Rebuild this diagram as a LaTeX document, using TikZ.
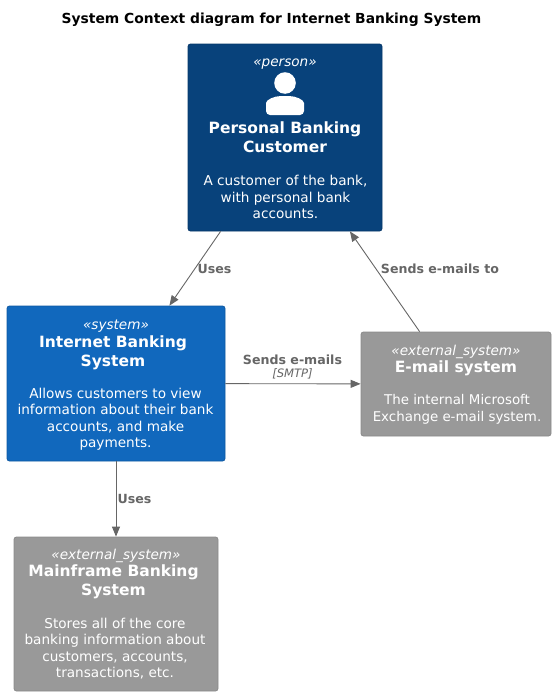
\documentclass[tikz,border=0pt]{standalone}
\usepackage{fontspec}
\setmainfont{DejaVu Sans}
\usetikzlibrary{arrows.meta,positioning}
\definecolor{personblue}{HTML}{08427B}
\definecolor{systemblue}{HTML}{1168BD}
\definecolor{extgray}{HTML}{999999}
\definecolor{linkgray}{HTML}{666666}
\begin{document}
\begin{tikzpicture}[x=1pt,y=-1pt,>={Triangle[length=10pt,width=8pt]},
    block/.style={rectangle,rounded corners=2.5pt,inner sep=0pt,line width=0.8pt},
    person/.style={block,fill=personblue,draw=personblue!85!black,minimum width=194pt,minimum height=187pt},
    system/.style={block,fill=systemblue,draw=systemblue!85!black,minimum width=218pt,minimum height=155pt},
    external/.style={block,fill=extgray,draw=extgray!90!black},
    stereo/.style={text=white,inner sep=0pt,font=\fontsize{13.6}{16.5}\selectfont\itshape},
    boxname/.style={text=white,align=center,inner sep=0pt,font=\fontsize{15.5}{19}\selectfont\bfseries},
    boxdesc/.style={text=white,align=center,inner sep=0pt,font=\fontsize{13.6}{16.5}\selectfont},
    link/.style={draw=linkgray,->,line width=0.9pt},
    linklabel/.style={text=linkgray,font=\fontsize{12.6}{15}\selectfont\bfseries,inner sep=0pt},
    techlabel/.style={text=linkgray,font=\fontsize{11.6}{14}\selectfont\itshape,inner sep=0pt}]
    \useasboundingbox (0,0) rectangle (556,696);
    \node[font=\fontsize{13.85}{16}\selectfont\bfseries,inner sep=0pt] (title) at (271.5,19.5) {System Context diagram for Internet Banking System};
    % the four boxes
    \node[person] (customer) at (285,137.5) {};
    \node[system] (banking) at (116,383.5) {};
    \node[external,minimum width=190pt,minimum height=104pt] (email) at (456,384) {};
    \node[external,minimum width=204pt,minimum height=154pt] (mainframe) at (116,614) {};
    % texts of the boxes
    \node[stereo] (customerst) at (285,64) {«person»};
    \node[boxname] (customername) at (285,137.5) {Personal Banking\hspace{5pt}\\Customer};
    \node[boxdesc] (customerdesc) at (285.5,197) {A customer of the bank,\\with personal bank\hspace{4pt}\\accounts.};
    \node[stereo] (bankingst) at (116,326) {«system»};
    \node[boxname] (bankingname) at (113,352.5) {Internet Banking\\System};
    \node[boxdesc] (bankingdesc) at (115.5,419) {Allows customers to view\\information about their bank\\accounts, and make\\payments.};
    \node[stereo] (emailst) at (456,351.5) {«external\_system»};
    \node[boxname] (emailname) at (456,368.5) {E-mail system};
    \node[boxdesc,font=\fontsize{13.4}{16.5}\selectfont] (emaildesc) at (457,409.5) {The internal Microsoft\\Exchange e-mail system.};
    \node[stereo] (mainframest) at (116,555.5) {«external\_system»};
    \node[boxname] (mainframename) at (113.5,582) {Mainframe Banking\\System};
    \node[boxdesc] (mainframedesc) at (115,648.5) {Stores all of the core\\banking information about\\customers, accounts,\\transactions, etc.};
    % person icon
    \fill[white] (285,83) circle (10.8pt);
    \fill[white,rounded corners=4pt] (266,115) -- (266,107) .. controls (266,100) and (274,96) .. (285,96) .. controls (296,96) and (304,100) .. (304,107) -- (304,115) -- cycle;
    % connectors
    \draw[link] (customer) -- (banking);
    \draw[link] (email) -- (customer);
    \draw[link] (banking) -- (email);
    \draw[link] (banking) -- (mainframe);
    % connector labels
    \node[linklabel] (usesa) at (214.5,268.5) {Uses};
    \node[linklabel] (sendsto) at (440,268.5) {Sends e-mails to};
    \node[linklabel] (sends) at (292.5,359.5) {Sends e-mails};
    \node[techlabel] (smtp) at (292.5,373.5) {[SMTP]};
    \node[linklabel] (usesb) at (134.5,498.5) {Uses};
\end{tikzpicture}
\end{document}
